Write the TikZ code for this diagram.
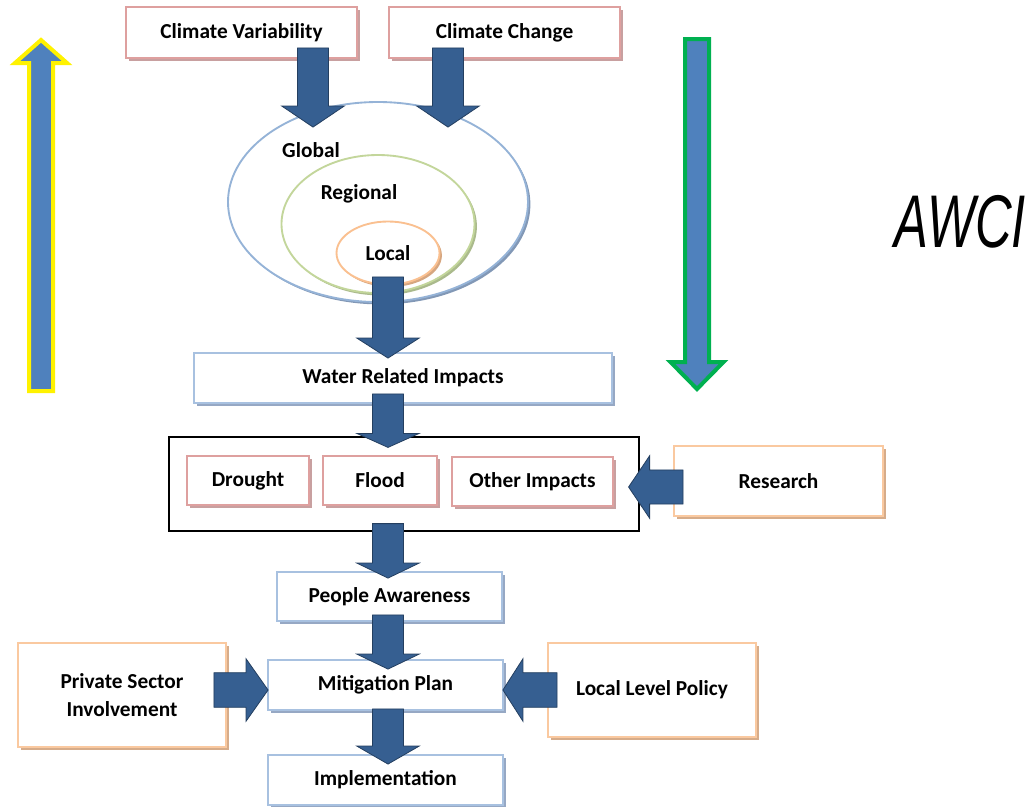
\documentclass[tikz,border=0pt]{standalone}
\usepackage{fontspec}
\setmainfont{Carlito}
\newfontfamily\awcifont{Liberation Sans}
\usepackage{graphicx}
\usetikzlibrary{shapes.geometric,calc,shadows}

\definecolor{arrblue}{RGB}{54,95,145}
\definecolor{arrline}{RGB}{36,63,96}
\definecolor{bigblue}{RGB}{79,129,189}
\definecolor{mygreen}{RGB}{0,176,80}
\definecolor{pinkline}{RGB}{222,160,159}
\definecolor{pinkshade}{RGB}{200,160,160}
\definecolor{blueline}{RGB}{168,193,224}
\definecolor{blueshade}{RGB}{150,168,196}
\definecolor{orangeline}{RGB}{250,201,160}
\definecolor{orangeshade}{RGB}{214,172,138}
\definecolor{globline}{RGB}{149,179,215}
\definecolor{globshade}{RGB}{130,152,182}
\definecolor{regline}{RGB}{195,214,155}
\definecolor{regshade}{RGB}{170,186,140}
\definecolor{locline}{RGB}{250,192,144}
\definecolor{locshade}{RGB}{214,166,128}

\tikzset{
  box/.style={draw=#1line, line width=1.4pt, fill=white, inner sep=0pt, align=center,
    font=\bfseries\fontsize{16}{21.5}\selectfont,
    drop shadow={shadow xshift=2.4pt, shadow yshift=-2.4pt, fill=#1shade, opacity=1}},
  ring/.style={ellipse, draw=#1line, line width=1.4pt, fill=white, inner sep=0pt,
    font=\bfseries\fontsize{16}{19}\selectfont,
    drop shadow={shadow xshift=1.8pt, shadow yshift=-1.8pt, fill=#1shade, opacity=1}},
  lbl/.style={font=\bfseries\fontsize{16}{19}\selectfont},
  fat shaft/.store in=\fatsw, fat shaft=11.6pt,
  fat head/.store in=\fathw, fat head=23.4pt,
  fat/.style={fill=arrblue, draw=arrline, line width=0.6pt, line join=miter,
    to path={let \p1=(\tikztostart), \p2=(\tikztotarget), \n1={atan2(\y2-\y1,\x2-\x1)} in
      -- ($(\p1)+(\n1+90:\fatsw)$)
      -- ($(\p2)+(\n1+180:#1)+(\n1+90:\fatsw)$)
      -- ($(\p2)+(\n1+180:#1)+(\n1+90:\fathw)$)
      -- (\p2)
      -- ($(\p2)+(\n1+180:#1)+(\n1-90:\fathw)$)
      -- ($(\p2)+(\n1+180:#1)+(\n1-90:\fatsw)$)
      -- ($(\p1)+(\n1-90:\fatsw)$) -- cycle}},
  fat/.default=15pt
}

\begin{document}
\begin{tikzpicture}[x=0.75pt, y=-0.75pt]
    \useasboundingbox (0,0) rectangle (1036,807);

    % sources
    \node[box=pink, minimum width=173.25pt, minimum height=38.25pt] (cv) at (241.5,32.5) {Climate Variability};
    \node[box=pink, minimum width=173.25pt, minimum height=38.25pt] (cc) at (504.5,32.5) {Climate Change};

    % scales
    \node[ring=glob, minimum width=225pt, minimum height=150pt] (glob) at (378,202) {};
    \node[lbl] (glabel) at (311,150) {Global};
    \node[ring=reg, minimum width=144.75pt, minimum height=103.5pt] (reg) at (378,224) {};
    \node[lbl] (rlabel) at (359,194) {Regional};
    \node[ring=loc, minimum width=77.25pt, minimum height=47.25pt] (loc) at (388,253) {Local};

    \node[box=blue, minimum width=313.5pt, minimum height=37.5pt] (wri) at (403,378) {Water Related Impacts};

    % impacts
    \node[draw=black, line width=0.9pt, minimum width=352.5pt, minimum height=70.5pt, inner sep=0pt] (grp) at (404,484) {};
    \node[box=pink, minimum width=91.5pt, minimum height=36.75pt] (dro) at (248,480.5) {Drought};
    \node[box=pink, minimum width=85.5pt, minimum height=36.75pt] (flo) at (380,480.5) {Flood};
    \node[box=pink, minimum width=120.75pt, minimum height=36.75pt] (oth) at (532.5,481.5) {Other Impacts};
    \node[box=orange, minimum width=156.75pt, minimum height=52.5pt] (res) at (778.5,481) {Research};

    \node[box=blue, minimum width=168.75pt, minimum height=36.75pt] (pa) at (389.5,596.5) {People Awareness};
    \node[box=blue, minimum width=176.25pt, minimum height=37.5pt] (mp) at (385.5,685) {Mitigation Plan};
    \node[box=orange, minimum width=156pt, minimum height=78pt] (psi) at (122,695) {Private Sector\\Involvement};
    \node[box=orange, minimum width=156pt, minimum height=70.5pt] (llp) at (652,690) {Local Level Policy};
    \node[box=blue, minimum width=176.25pt, minimum height=37.5pt] (impl) at (385.5,780) {Implementation};

    \node (awci) at (960,222) {\awcifont\itshape\fontsize{56}{60}\selectfont\scalebox{0.68}[1]{AWCI}};

    % block arrows
    \draw[fat=15.75pt] ($(cv.south)+(71.5,-11)$) to ($(glob.north)+(-65,26)$);
    \draw[fat=15.75pt] ($(cc.south)+(-56.5,-11)$) to ($(glob.north)+(70,26)$);
    \draw[fat] ($(loc.south)+(0,-8.5)$) to ($(wri.north)+(-15,6)$);
    \draw[fat=10.5pt] ($(wri.south)+(-15,-10)$) to ($(grp.north)+(-16,11)$);
    \draw[fat=11.25pt] ($(grp.south)+(-16,-8)$) to ($(pa.north)+(-1.5,7)$);
    \draw[fat=11.25pt] ($(pa.south)+(-1.5,-7)$) to ($(mp.north)+(2.5,10)$);
    \draw[fat=13.5pt] ($(mp.south)+(2.5,-2)$) to ($(impl.north)+(2.5,10)$);
    \draw[fat=15.75pt, fat shaft=12.8pt] ($(res.west)+(10,6)$) to ($(grp.east)+(-11,3)$);
    \draw[fat=16.5pt, fat shaft=13pt] ($(psi.east)+(-13,-5)$) to ($(mp.west)+(1,5)$);
    \draw[fat=15pt, fat shaft=13pt] ($(llp.west)+(10,0)$) to ($(mp.east)+(-1,5)$);

    % side arrows
    \coordinate (upbot) at (41,391);
    \coordinate (uptip) at (41,40);
    \coordinate (dntop) at (697,39);
    \coordinate (dntip) at (697,389);
    \draw[fat=17.25pt, fat shaft=9pt, fat head=19.5pt, fill=bigblue, draw=yellow, line width=3pt] (upbot) to (uptip);
    \draw[fat=20.25pt, fat shaft=9pt, fat head=19.9pt, fill=bigblue, draw=mygreen, line width=3pt] (dntop) to (dntip);
\end{tikzpicture}
\end{document}
